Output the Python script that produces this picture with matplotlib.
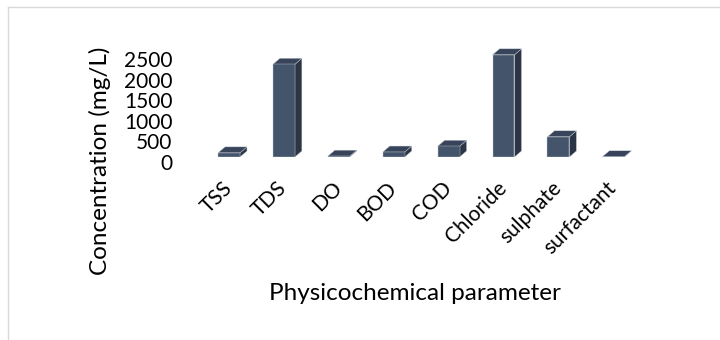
import matplotlib.pyplot as plt
from matplotlib.patches import Polygon, Rectangle
from matplotlib.lines import Line2D
from matplotlib.transforms import ScaledTranslation

# Données
parametres = ["TSS", "TDS", "DO", "BOD", "COD", "Chloride", "sulphate", "surfactant"]
concentrations = [100, 2250, 20, 120, 260, 2480, 490, 5]
graduations = [0, 500, 1000, 1500, 2000, 2500]

plt.rcParams['font.family'] = ['Lato', 'DejaVu Sans']

W, H = 720, 340
fig = plt.figure(figsize=(W / 100, H / 100), dpi=100)

# axe placé en pixels (origine des barres à y=157 depuis le haut)
px_unit = 54.9
x0, x1 = -0.9, 8.2
left = 229 - 0.9 * px_unit
width = (x1 - x0) * px_unit
y_top = 2700
px_val = 103 / 2500
height = y_top * px_val
ax = fig.add_axes([left / W, (H - 157) / H, width / W, height / H])
ax.set_xlim(x0, x1)
ax.set_ylim(0, y_top)

# barres "3D" façon Excel
w = 0.4
dx = 7 / px_unit
dy = 6 / px_val
c_face, c_top, c_side = '#44546a', '#37445a', '#2b3545'
for i, v in enumerate(concentrations):
    xl, xr = i - w / 2, i + w / 2
    ax.add_patch(Polygon([(xr, 0), (xr + dx, dy), (xr + dx, v + dy), (xr, v)],
                         closed=True, facecolor=c_side, edgecolor='#c4c9d1', lw=0.3))
    ax.add_patch(Polygon([(xl, v), (xr, v), (xr + dx, v + dy), (xl + dx, v + dy)],
                         closed=True, facecolor=c_top, edgecolor='#c4c9d1', lw=0.3))
    ax.add_patch(Rectangle((xl, 0), w, v, facecolor=c_face, edgecolor='#c4c9d1', lw=0.3))

for s in ax.spines.values():
    s.set_visible(False)
ax.set_facecolor('none')

ax.set_yticks(graduations)
ax.set_yticklabels([str(g) for g in graduations], fontsize=15)
ax.tick_params(axis='y', length=0, pad=5)
decal = ScaledTranslation(0, -5 / 100, fig.dpi_scale_trans)
for lab in ax.get_yticklabels():
    lab.set_transform(lab.get_transform() + decal)

ax.set_xticks(range(len(parametres)))
ax.set_xticklabels(parametres, fontsize=15, rotation=45, ha='right', va='center',
                   rotation_mode='anchor')
ax.tick_params(axis='x', length=0, pad=20)

# titres des axes
fig.text(100 / W, 1 - 161 / H, "Concentration (mg/L)", rotation=90,
         ha='center', va='center', fontsize=17.5)
fig.text(415 / W, 1 - 293 / H, "Physicochemical parameter",
         ha='center', va='center', fontsize=17.5)

# cadre du graphique
fig.add_artist(Line2D([8 / W, 1], [1 - 7 / H, 1 - 7 / H], color='#d9d9d9', lw=1))
fig.add_artist(Line2D([8 / W, 8 / W], [0, 1 - 7 / H], color='#d9d9d9', lw=1))

fig.savefig("out.png", dpi=100)
